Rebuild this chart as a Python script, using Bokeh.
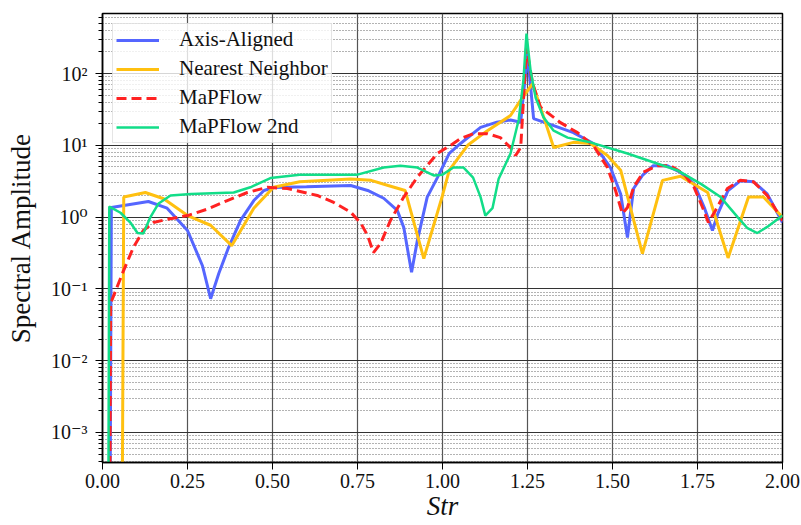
import numpy as np
from bokeh.plotting import figure
from bokeh.models import Range1d, FixedTicker, CustomJSTickFormatter, NumeralTickFormatter, ColumnDataSource
from bokeh.embed import file_html
from bokeh.resources import INLINE

# ---------------- data ----------------
aa_x = [0.0, 0.026, 0.135, 0.19, 0.25, 0.294, 0.318, 0.342, 0.371, 0.406, 0.445, 0.475, 0.503, 0.60,
        0.73, 0.78, 0.827, 0.867, 0.886, 0.909, 0.926, 0.955, 0.985, 1.02, 1.053, 1.112, 1.16, 1.2,
        1.23, 1.25, 1.268, 1.327, 1.385, 1.444, 1.494, 1.524, 1.544, 1.562, 1.588, 1.62, 1.66, 1.70,
        1.74, 1.77, 1.794, 1.81, 1.84, 1.876, 1.915, 1.955, 2.0]
aa_y = [0.0, 1.36, 1.65, 1.33, 0.65, 0.21, 0.073, 0.164, 0.38, 0.9, 1.7, 2.35, 2.58, 2.65,
        2.75, 2.35, 1.83, 1.24, 0.72, 0.17, 0.47, 1.9, 3.55, 7.7, 10.6, 17.8, 21.0, 22.5,
        21.0, 190.0, 23.5, 18.8, 15.0, 10.6, 4.9, 2.1, 0.52, 2.5, 3.8, 5.2, 5.2, 4.2,
        2.9, 1.36, 0.65, 1.12, 2.35, 3.2, 3.1, 2.1, 0.84]

nn_x = [0.0, 0.03125, 0.0625, 0.126, 0.18, 0.25, 0.318, 0.38, 0.445, 0.503, 0.58, 0.73, 0.79,
        0.84, 0.89, 0.945, 1.0, 1.02, 1.074, 1.132, 1.2, 1.229, 1.265, 1.288, 1.327, 1.385, 1.435,
        1.485, 1.524, 1.588, 1.647, 1.70, 1.78, 1.84, 1.9, 1.944, 2.0]
nn_y = [0.0, 0.0, 1.9, 2.2, 1.8, 1.05, 0.77, 0.4, 1.33, 2.6, 3.1, 3.4, 3.25,
        2.75, 2.35, 0.265, 2.0, 4.5, 10.0, 16.0, 26.0, 42.0, 72.0, 34.0, 9.3, 11.0, 10.6,
        7.2, 4.5, 0.31, 3.25, 3.7, 2.2, 0.27, 1.9, 1.9, 1.0]

mpf_x = [0.0, 0.024, 0.062, 0.091, 0.12, 0.15, 0.19, 0.25, 0.31, 0.367, 0.426, 0.485, 0.544, 0.632,
         0.68, 0.73, 0.76, 0.78, 0.797, 0.818, 0.847, 0.886, 0.926, 0.985, 1.024, 1.053, 1.09,
         1.132, 1.17, 1.2, 1.215, 1.23, 1.247, 1.265, 1.288, 1.327, 1.347, 1.397, 1.444, 1.485,
         1.509, 1.529, 1.544, 1.562, 1.59, 1.632, 1.67, 1.71, 1.74, 1.765, 1.782, 1.803, 1.838,
         1.876, 1.915, 1.955, 2.0]
mpf_y = [0.0, 0.063, 0.18, 0.38, 0.65, 0.84, 0.93, 1.05, 1.3, 1.7, 2.2, 2.6, 2.5, 2.0,
         1.6, 1.17, 0.82, 0.55, 0.32, 0.43, 0.9, 1.9, 3.6, 7.7, 10.0, 12.4, 14.5,
         14.5, 12.8, 9.3, 7.2, 9.3, 230.0, 73.0, 34.0, 24.5, 20.7, 15.0, 9.9, 4.9,
         2.35, 1.12, 1.36, 2.6, 4.2, 5.2, 5.2, 4.0, 2.6, 1.36, 0.84, 1.24, 2.5,
         3.25, 3.1, 2.0, 0.89]

mpf2_x = [0.0, 0.02, 0.053, 0.082, 0.103, 0.12, 0.141, 0.165, 0.2, 0.26, 0.386, 0.435, 0.494, 0.58,
          0.75, 0.827, 0.876, 0.926, 0.974, 1.0, 1.032, 1.062, 1.09, 1.112, 1.126, 1.147, 1.165,
          1.2, 1.224, 1.238, 1.247, 1.259, 1.274, 1.297, 1.327, 1.368, 1.435, 1.544, 1.62, 1.69,
          1.76, 1.818, 1.868, 1.897, 1.926, 1.955, 2.0]
mpf2_y = [0.0, 1.4, 1.15, 0.84, 0.6, 0.59, 1.0, 1.55, 2.0, 2.1, 2.2, 2.6, 3.5, 3.9,
          3.9, 4.9, 5.2, 4.9, 3.8, 3.9, 4.9, 4.9, 3.55, 1.9, 1.05, 1.33, 3.4,
          7.7, 22.5, 80.0, 360.0, 110.0, 46.0, 24.5, 16.0, 12.8, 11.0, 7.7, 5.8, 4.5,
          2.9, 1.9, 1.0, 0.7, 0.6, 0.73, 1.05]

x_ticks = [0.0, 0.25, 0.5, 0.75, 1.0, 1.25, 1.5, 1.75, 2.0]
y_ticks = [1e-3, 1e-2, 1e-1, 1e0, 1e1, 1e2]

series = [
    ("Axis-Aligned", aa_x, aa_y, "#5566FF", 3.0, "solid"),
    ("Nearest Neighbor", nn_x, nn_y, "#FFC010", 3.0, "solid"),
    ("MaPFlow", mpf_x, mpf_y, "#FF2222", 3.0, "10 5"),
    ("MaPFlow 2nd", mpf2_x, mpf2_y, "#12DD88", 2.5, "solid"),
]

SERIF = "'Liberation Serif', 'DejaVu Serif', serif"

p = figure(frame_width=680, frame_height=449,
           x_range=Range1d(0, 2), y_range=Range1d(3.82e-4, 685),
           y_axis_type="log", output_backend="svg", toolbar_location=None,
           min_border_left=102, min_border_right=19, min_border_top=13, min_border_bottom=63)

for name, xs, ys, color, lw, dash in series:
    # non-positive values clipped to a tiny floor, as a log plot does
    yy = np.maximum(np.asarray(ys, dtype=float), 1e-30)
    src = ColumnDataSource(dict(x=xs, y=yy))
    p.line("x", "y", source=src, line_color=color, line_width=lw, line_dash=dash,
           legend_label=name)

minor = [k * 10.0 ** e for e in range(-4, 3) for k in range(2, 10)]
p.yaxis.ticker = FixedTicker(ticks=y_ticks, minor_ticks=minor)
p.xaxis.ticker = FixedTicker(ticks=x_ticks, minor_ticks=[])
p.xaxis.formatter = NumeralTickFormatter(format="0.00")
p.yaxis.formatter = CustomJSTickFormatter(code="""
const e = Math.round(Math.log10(tick));
const sup = {'-':'\\u207B','0':'\\u2070','1':'\\u00B9','2':'\\u00B2','3':'\\u00B3',
             '4':'\\u2074','5':'\\u2075','6':'\\u2076','7':'\\u2077','8':'\\u2078','9':'\\u2079'};
return '10' + String(e).split('').map(c => sup[c]).join('');
""")

for ax in (p.xaxis, p.yaxis):
    ax.axis_line_color = "black"
    ax.axis_line_width = 1.5
    ax.major_tick_line_color = "black"
    ax.minor_tick_line_color = "black"
    ax.major_tick_out = 7
    ax.major_tick_in = 0
    ax.minor_tick_out = 4
    ax.minor_tick_in = 0
    ax.major_label_text_font = SERIF
    ax.major_label_text_font_size = "20px"
    ax.major_label_text_color = "#111111"
    ax.axis_label_text_font = SERIF
    ax.axis_label_text_font_size = "27px"
    ax.axis_label_text_color = "#111111"

p.yaxis.axis_label = "Spectral Amplitude"
p.yaxis.axis_label_text_font_style = "normal"
p.yaxis.major_label_standoff = 8
p.yaxis.axis_label_standoff = 12
p.xaxis.axis_label = "Str"
p.xaxis.axis_label_text_font_style = "italic"
p.xaxis.major_label_standoff = 4
p.xaxis.axis_label_standoff = 0

p.outline_line_color = "black"
p.outline_line_width = 1.5
p.outline_line_alpha = 1.0

p.xgrid.grid_line_color = "#555555"
p.xgrid.grid_line_width = 1.2
p.ygrid.grid_line_color = "#333333"
p.ygrid.grid_line_width = 1.2
p.ygrid.minor_grid_line_color = "#666666"
p.ygrid.minor_grid_line_dash = "1 2"
p.ygrid.minor_grid_line_width = 1

p.background_fill_color = "white"
p.border_fill_color = "white"

lg = p.legend[0]
lg.location = "top_left"
lg.margin = 10
lg.padding = 3
lg.spacing = 4
lg.glyph_width = 43
lg.glyph_height = 20
lg.label_height = 20
lg.label_standoff = 20
lg.label_text_font = SERIF
lg.label_text_font_size = "21px"
lg.label_text_color = "#111111"
lg.border_line_color = "#CCCCCC"
lg.border_line_width = 1.5
lg.background_fill_color = "white"
lg.background_fill_alpha = 0.8

with open("out.html", "w", encoding="utf-8") as f:
    f.write(file_html(p, INLINE))
